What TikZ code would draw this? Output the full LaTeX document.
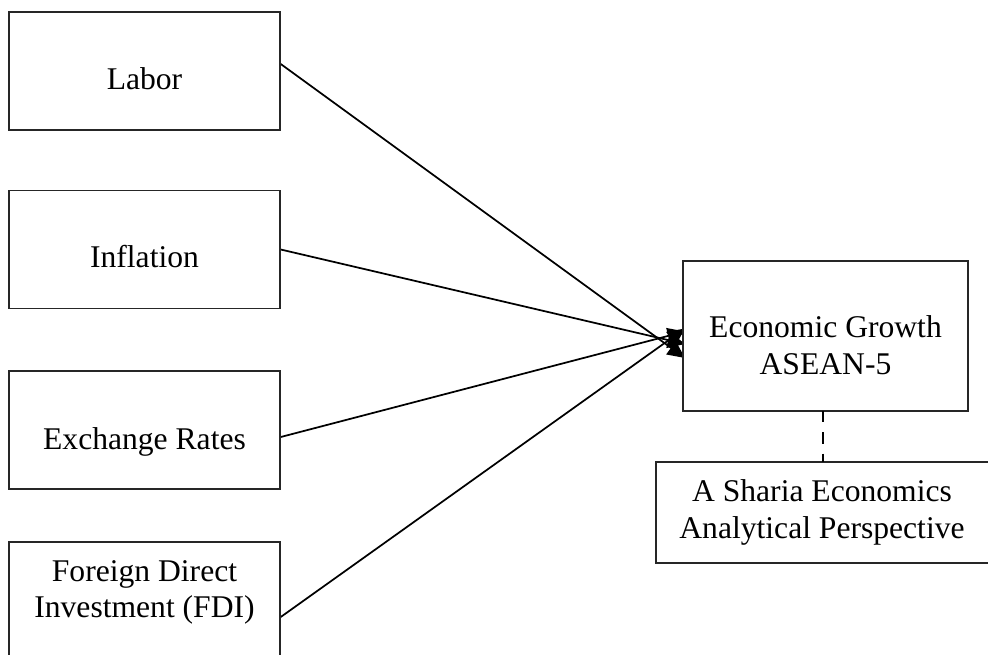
\documentclass[tikz,border=0pt]{standalone}
\usepackage{fontspec}
\setmainfont{Liberation Serif}
\usetikzlibrary{arrows.meta,backgrounds}
\begin{document}
\begin{tikzpicture}[x=0.75pt,y=-0.75pt,
  box/.style={draw=black!85,fill=white,line width=1.1pt,inner sep=0pt,minimum width=#1},
  leftbox/.style={box=203.25pt,minimum height=88.5pt},
  lbl/.style={anchor=base,inner sep=0pt,font=\fontsize{23.7}{27.5}\selectfont},
  conn/.style={line width=1.3pt,-{Triangle[length=13pt,width=12pt]}}]
\useasboundingbox (0,0) rectangle (988,654);
\clip (0,0) rectangle (988,654);
% boxes
\node[leftbox] (labor) at (144.5,71) {};
\node[leftbox] (infl) at (144.5,249.5) {};
\node[leftbox] (exch) at (144.5,430) {};
\node[leftbox] (fdi) at (144.5,601) {};
\node[box=213.75pt,minimum height=112.5pt] (growth) at (825.5,336) {};
\node[box=254.25pt,minimum height=75.75pt] (sharia) at (825.5,512.5) {};
% labels
\node[lbl] (laborT) at (144.5,89.3) {Labor};
\node[lbl] (inflT) at (144.5,267.7) {Inflation};
\node[lbl] (exchT) at (144.5,449.3) {Exchange Rates};
\node[lbl] (fdiT1) at (144.5,581) {Foreign Direct};
\node[lbl] (fdiT2) at (144.5,617.3) {Investment (FDI)};
\node[lbl] (growthT1) at (825.5,337.7) {Economic Growth};
\node[lbl] (growthT2) at (825.5,374.3) {ASEAN-5};
\node[lbl] (shariaT1) at (822,501.7) {A Sharia Economics};
\node[lbl] (shariaT2) at (822,538.3) {Analytical Perspective};
% arrow end points (tips run slightly under the filled box)
\coordinate (eL) at (685,358);
\coordinate (eI) at (685,344);
\coordinate (eE) at (685,331.5);
\coordinate (eF) at (685,328.5);
\coordinate (dTop) at (823.3,411);
\coordinate (dBot) at (823.3,462);
% connectors
\begin{scope}[on background layer]
\draw[conn] ([yshift=5.25pt]labor.east) -- (eL);
\draw[conn] (infl.east) -- (eI);
\draw[conn] ([yshift=-5.25pt]exch.east) -- (eE);
\draw[conn] ([yshift=-12pt]fdi.east) -- (eF);
\end{scope}
\draw[line width=1.3pt,dash pattern=on 8.5pt off 7.5pt] (dTop) -- (dBot);
\end{tikzpicture}
\end{document}
